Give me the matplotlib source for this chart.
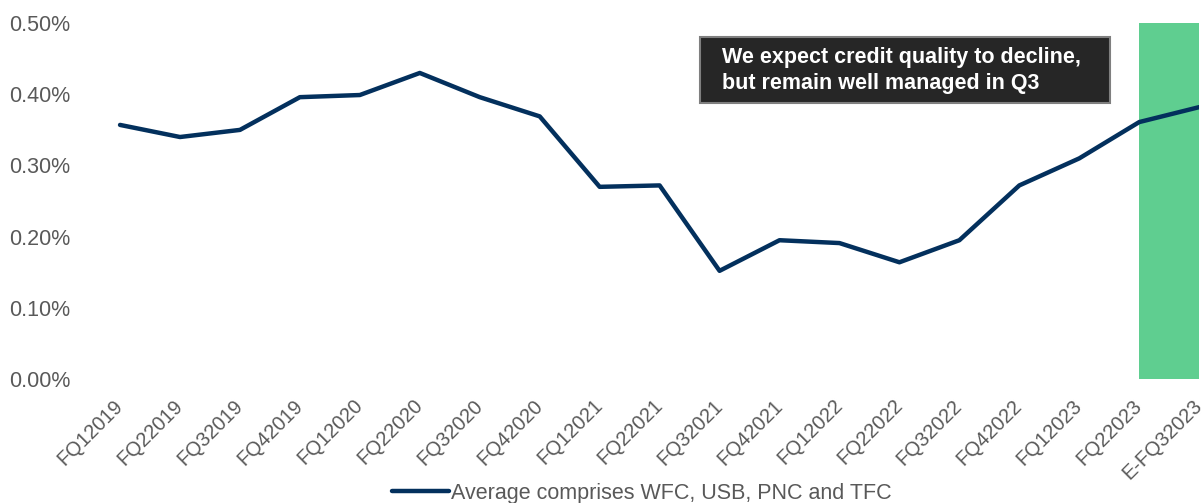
import matplotlib
matplotlib.use('Agg')
import matplotlib.pyplot as plt
from matplotlib.patches import Rectangle
from matplotlib.ticker import FuncFormatter

quarters = ['FQ12019', 'FQ22019', 'FQ32019', 'FQ42019', 'FQ12020', 'FQ22020',
            'FQ32020', 'FQ42020', 'FQ12021', 'FQ22021', 'FQ32021', 'FQ42021',
            'FQ12022', 'FQ22022', 'FQ32022', 'FQ42022', 'FQ12023', 'FQ22023',
            'E-FQ32023']
avg_rate = [0.357, 0.340, 0.350, 0.396, 0.399, 0.430, 0.396, 0.369, 0.270, 0.272,
            0.152, 0.195, 0.191, 0.164, 0.195, 0.272, 0.310, 0.361, 0.382]
y_ticks = [0.0, 0.1, 0.2, 0.3, 0.4, 0.5]
legend_label = 'Average comprises WFC, USB, PNC and TFC'
note = 'We expect credit quality to decline,\nbut remain well managed in Q3'

plt.rcParams['font.family'] = ['Liberation Sans', 'DejaVu Sans']
grey = '#595959'
navy = '#03305d'

fig = plt.figure(figsize=(12.04, 5.03), dpi=100)
ax = fig.add_axes([0.0748, 0.2465, 0.9212, 0.7075])

x = list(range(len(quarters)))
# shaded estimate region between the last two quarters
ax.axvspan(len(quarters) - 2, len(quarters) - 1, ymin=0, ymax=1, color='#5fce90', lw=0, zorder=1)
line, = ax.plot(x, avg_rate, color=navy, lw=3.2, solid_capstyle='round', zorder=3)

ax.set_xlim(-0.5, len(quarters) - 1)
ax.set_ylim(0, 0.5)
ax.set_yticks(y_ticks)
ax.yaxis.set_major_formatter(FuncFormatter(lambda v, p: '{:.2f}%'.format(v)))
ax.set_xticks(x)
ax.set_xticklabels(quarters, rotation=45, ha='right', va='center', rotation_mode='anchor')
ax.tick_params(axis='both', length=0, labelcolor=grey)
ax.tick_params(axis='y', pad=14, labelsize=15.5)
ax.tick_params(axis='x', pad=17, labelsize=14.5)
for s in ax.spines.values():
    s.set_visible(False)

# annotation box
ax.add_patch(Rectangle((0.550, 0.775), 0.3697, 0.1857, transform=ax.transAxes,
                       fc='#262626', ec='#7f7f7f', lw=1.5, zorder=4))
ax.text(0.5698, 0.866, note, transform=ax.transAxes, color='white', fontsize=15.5,
        fontweight='bold', va='center', ha='left', linespacing=1.3, zorder=5)

fig.legend([line], [legend_label], loc='center', bbox_to_anchor=(0.533, 0.019),
           frameon=False, fontsize=15.5, labelcolor=grey, handlelength=2.65,
           handletextpad=0.1, borderpad=0)

fig.savefig('out.png', dpi=100)
